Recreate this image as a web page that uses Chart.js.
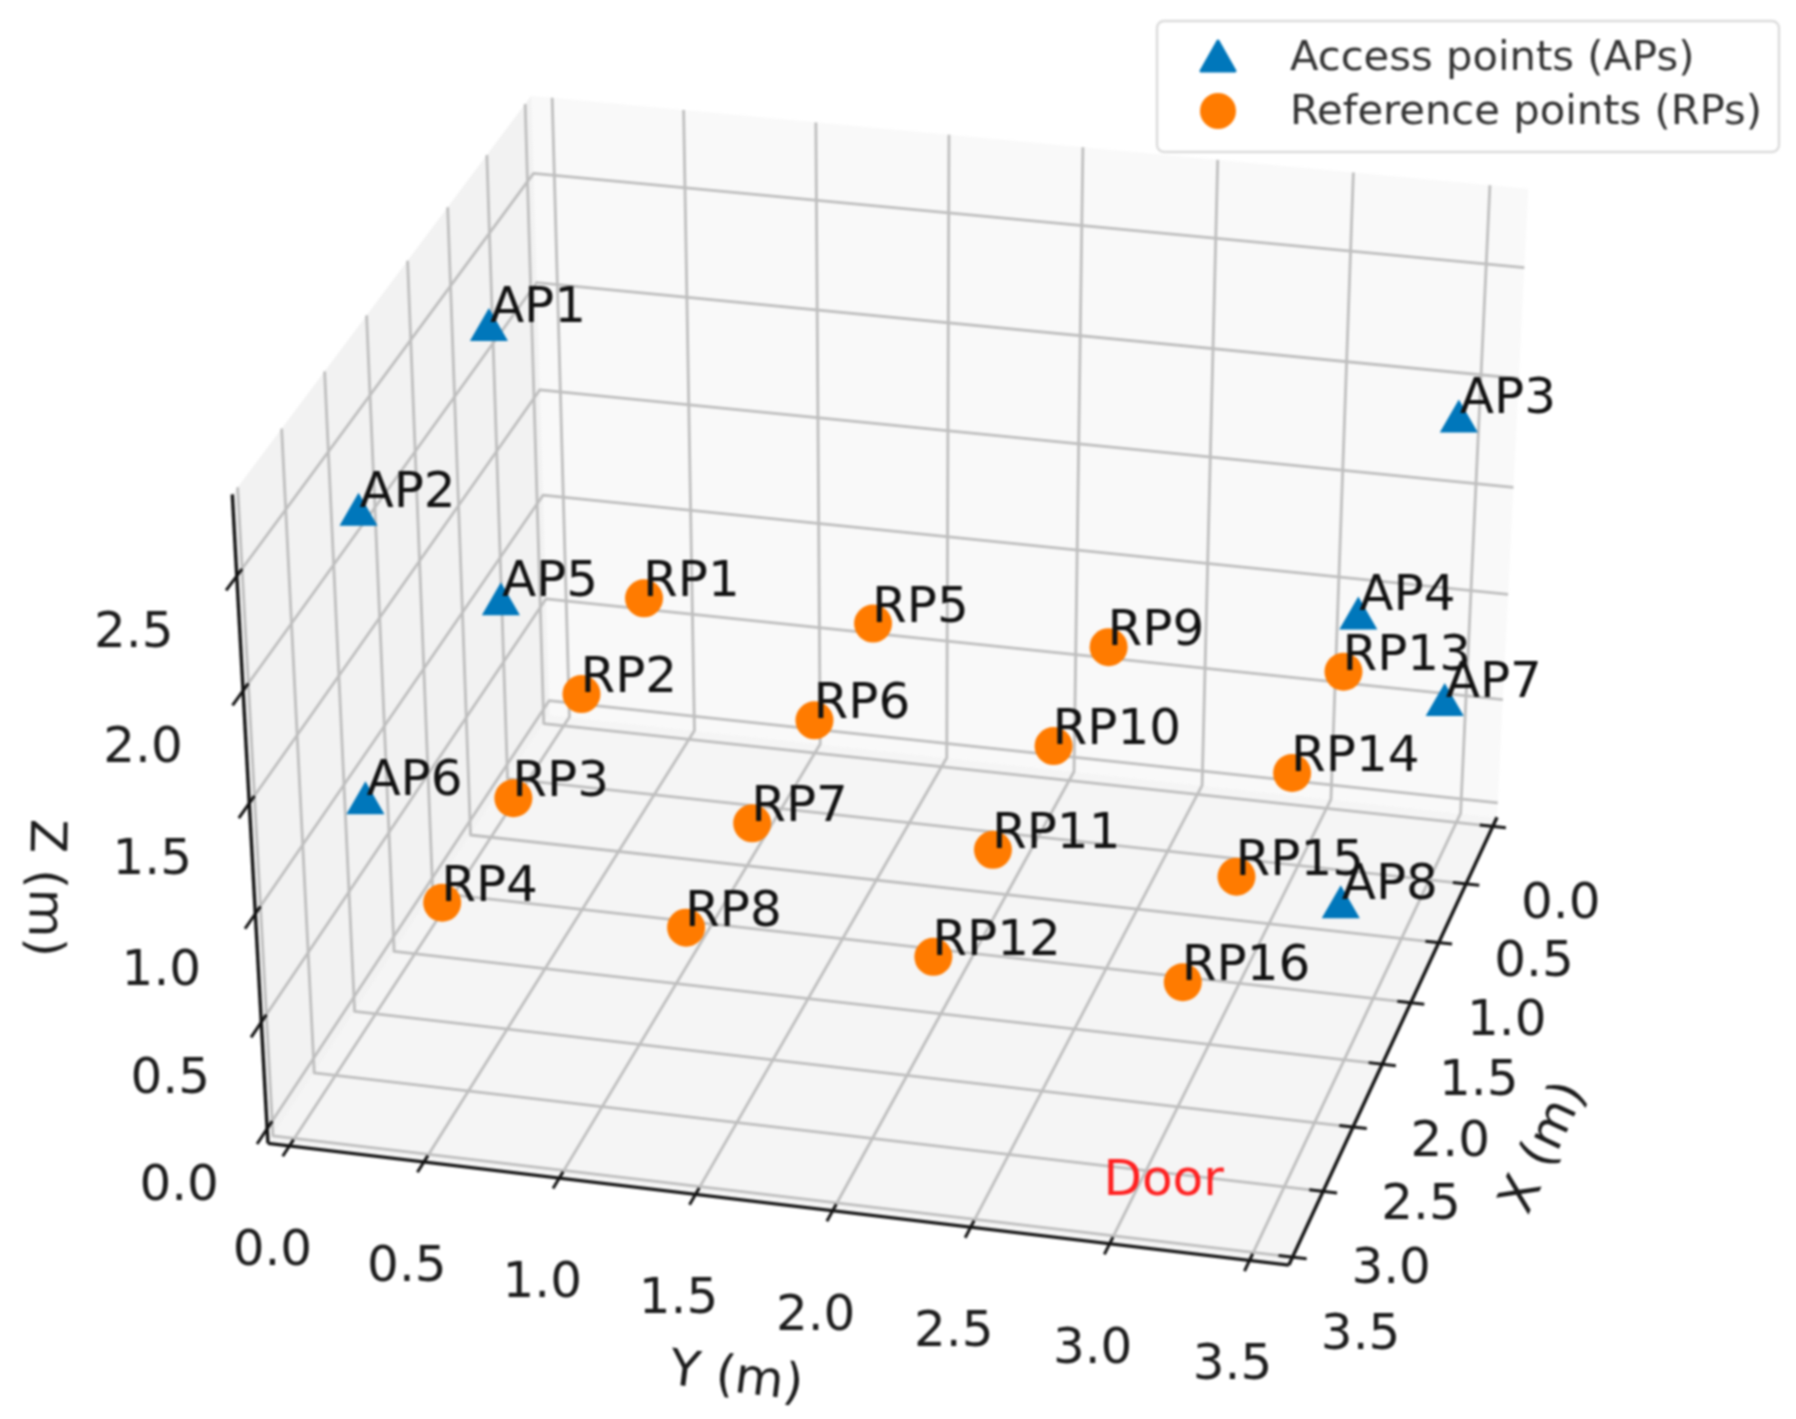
<!DOCTYPE html>
<html>
<head>
<meta charset="utf-8">
<title>APs and RPs</title>
<script src="https://cdn.jsdelivr.net/npm/chart.js@4/dist/chart.umd.min.js"></script>
<style>
    html, body { margin: 0; padding: 0; background: #fff; }
    canvas { display: block; filter: blur(0.8px); }
</style>
</head>
<body>
<canvas id="roomChart" width="1796" height="1419"></canvas>
<script>
// values in metres
const xTicks = [0, 0.5, 1, 1.5, 2, 2.5, 3, 3.5];
const yTicks = [0, 0.5, 1, 1.5, 2, 2.5, 3, 3.5];
const zTicks = [0, 0.5, 1, 1.5, 2, 2.5];

const apNames = ['AP1', 'AP2', 'AP3', 'AP4', 'AP5', 'AP6', 'AP7', 'AP8'];
const apX = [0.84, 2.50, 0.80, 2.50, 0.87, 2.60, 0.88, 2.57];
const apY = [0.01, 0.02, 3.59, 3.59, 0.03, 0.03, 3.60, 3.58];
const apZ = [2.235, 2.235, 2.235, 2.235, 0.985, 0.985, 0.985, 0.985];

const rpNames = ['RP1', 'RP2', 'RP3', 'RP4', 'RP5', 'RP6', 'RP7', 'RP8', 'RP9', 'RP10', 'RP11', 'RP12', 'RP13', 'RP14', 'RP15', 'RP16'];
const rpX = [0.72, 1.57, 2.46, 3.32, 0.73, 1.58, 2.45, 3.30, 0.72, 1.58, 2.45, 3.31, 0.72, 1.59, 2.45, 3.29];
const rpY = [0.54, 0.54, 0.54, 0.53, 1.42, 1.42, 1.42, 1.41, 2.31, 2.31, 2.30, 2.30, 3.19, 3.19, 3.18, 3.18];
const rpZ = [1, 1, 1, 1, 1, 1, 1, 1, 1, 1, 1, 1, 1, 1, 1, 1];

const doorPos = [3.32, 2.92, 0];

// limits of the box
const xMin = -0.08, xMax = 3.56;
const yMin = -0.08, yMax = 3.64;
const zMin = -0.07, zMax = 2.85;

// camera matrix, fitted to the picture
const camera = [
    [-83.25446, 246.5869, -15.2291, 563.3445],
    [94.05804, 22.71929, -214.2951, 711.5535],
    [-0.02106436, -0.005996247, -0.01683762, 1]
];

function project(x, y, z) {
    const w = camera[2][0] * x + camera[2][1] * y + camera[2][2] * z + camera[2][3];
    return {
        x: (camera[0][0] * x + camera[0][1] * y + camera[0][2] * z + camera[0][3]) / w,
        y: (camera[1][0] * x + camera[1][1] * y + camera[1][2] * z + camera[1][3]) / w
    };
}

function path3d(points) {
    return points.map(p => project(p[0], p[1], p[2]));
}

function lineSet(points, color, width) {
    return {
        type: 'line',
        data: path3d(points),
        borderColor: color,
        borderWidth: width,
        borderJoinStyle: 'round',
        pointRadius: 0,
        fill: false,
        tension: 0
    };
}

function paneSet(points, color) {
    return {
        type: 'line',
        data: path3d(points.concat([points[0]])),
        borderWidth: 0,
        borderColor: color,
        backgroundColor: color,
        pointRadius: 0,
        fill: 'shape',
        tension: 0
    };
}

const gridColor = '#bebebe';
const axisColor = '#141414';

const paneSets = [
    paneSet([[xMin, yMin, zMin], [xMax, yMin, zMin], [xMax, yMin, zMax], [xMin, yMin, zMax]], '#f2f2f2'),
    paneSet([[xMin, yMin, zMin], [xMin, yMax, zMin], [xMin, yMax, zMax], [xMin, yMin, zMax]], '#f9f9f9'),
    paneSet([[xMin, yMin, zMin], [xMax, yMin, zMin], [xMax, yMax, zMin], [xMin, yMax, zMin]], '#f5f5f5')
];

const gridSets = [
    ...xTicks.map(t => lineSet([[t, yMin, zMax], [t, yMin, zMin], [t, yMax, zMin]], gridColor, 2.8)),
    ...yTicks.map(t => lineSet([[xMax, t, zMin], [xMin, t, zMin], [xMin, t, zMax]], gridColor, 2.8)),
    ...zTicks.map(t => lineSet([[xMax, yMin, t], [xMin, yMin, t], [xMin, yMax, t]], gridColor, 2.8))
];

const axisSets = [
    lineSet([[xMin, yMax, zMin], [xMax, yMax, zMin]], axisColor, 3.4),
    lineSet([[xMax, yMin, zMin], [xMax, yMax, zMin]], axisColor, 3.4),
    lineSet([[xMax, yMin, zMin], [xMax, yMin, zMax]], axisColor, 3.4),
    ...xTicks.map(t => lineSet([[t, yMax - 0.05, zMin], [t, yMax + 0.05, zMin]], axisColor, 3)),
    ...yTicks.map(t => lineSet([[xMax - 0.05, t, zMin], [xMax + 0.08, t, zMin]], axisColor, 3)),
    ...zTicks.map(t => lineSet([[xMax - 0.06, yMin, t], [xMax + 0.12, yMin, t]], axisColor, 3))
];

const apSet = {
    type: 'scatter',
    label: 'Access points (APs)',
    names: apNames,
    data: apNames.map((n, i) => project(apX[i], apY[i], apZ[i])),
    pointStyle: 'triangle',
    pointRadius: 20,
    pointBorderWidth: 2,
    borderColor: '#0077bb',
    backgroundColor: '#0077bb'
};

const rpSet = {
    type: 'scatter',
    label: 'Reference points (RPs)',
    names: rpNames,
    data: rpNames.map((n, i) => project(rpX[i], rpY[i], rpZ[i])),
    pointStyle: 'circle',
    pointRadius: 19,
    pointBorderWidth: 0,
    borderColor: '#ff7b00',
    backgroundColor: '#ff7b00'
};

// Chart.js paints the first dataset last, so the list is back to front
const allSets = [rpSet, apSet, ...axisSets, ...gridSets, ...paneSets];

const roomText = {
    id: 'roomText',
    afterDatasetsDraw(chart) {
        const ctx = chart.ctx;
        const sx = chart.scales.x, sy = chart.scales.y;
        const px = p => sx.getPixelForValue(p.x);
        const py = p => sy.getPixelForValue(p.y);
        ctx.save();

        // point names
        ctx.font = '50px "DejaVu Sans"';
        ctx.fillStyle = '#111';
        ctx.textAlign = 'left';
        ctx.textBaseline = 'alphabetic';
        apSet.data.forEach((p, i) => ctx.fillText(apNames[i], px(p) + 1, py(p) - 8));
        rpSet.data.forEach((p, i) => ctx.fillText(rpNames[i], px(p) - 1, py(p) - 2));

        // door
        const door = project(doorPos[0], doorPos[1], doorPos[2]);
        ctx.font = '50px "DejaVu Sans"';
        ctx.fillStyle = '#ff2020';
        ctx.fillText('Door', px(door), py(door));

        // tick labels
        ctx.font = '50px "DejaVu Sans"';
        ctx.fillStyle = '#1c1c1c';
        ctx.textAlign = 'center';
        ctx.textBaseline = 'middle';
        xTicks.forEach(t => {
            const p = project(t, yMax, zMin);
            ctx.fillText(t.toFixed(1), px(p) + 68, py(p) + 79);
        });
        yTicks.forEach(t => {
            const p = project(xMax, t, zMin);
            ctx.fillText(t.toFixed(1), px(p) - 17, py(p) + 106);
        });
        zTicks.forEach(t => {
            const p = project(xMax, yMin, t);
            ctx.fillText(t.toFixed(1), px(p) - 88 - 6 * t, py(p) + 58);
        });

        // axis titles
        [['X (m)', 1545, 1148, -65], ['Y (m)', 736, 1379, 7], ['Z (m)', 43, 888, 91]].forEach(a => {
            ctx.save();
            ctx.translate(a[1], a[2]);
            ctx.rotate(a[3] * Math.PI / 180);
            ctx.fillText(a[0], 0, 0);
            ctx.restore();
        });

        // legend box
        ctx.beginPath();
        ctx.roundRect(1157, 21, 622, 131, 7);
        ctx.fillStyle = 'rgba(255,255,255,0.85)';
        ctx.fill();
        ctx.lineWidth = 2.5;
        ctx.strokeStyle = '#dcdcdc';
        ctx.stroke();

        ctx.fillStyle = apSet.backgroundColor;
        ctx.strokeStyle = apSet.backgroundColor;
        ctx.lineJoin = 'round';
        ctx.lineWidth = 3;
        ctx.beginPath();
        ctx.moveTo(1218, 41);
        ctx.lineTo(1235, 71);
        ctx.lineTo(1201, 71);
        ctx.closePath();
        ctx.fill();
        ctx.stroke();
        ctx.fillStyle = rpSet.backgroundColor;
        ctx.beginPath();
        ctx.arc(1218, 111, 18, 0, Math.PI * 2);
        ctx.fill();

        ctx.font = '41.7px "DejaVu Sans"';
        ctx.fillStyle = '#333';
        ctx.textAlign = 'left';
        ctx.textBaseline = 'alphabetic';
        ctx.fillText(apSet.label, 1290, 70);
        ctx.fillText(rpSet.label, 1290, 124);
        ctx.restore();
    }
};

new Chart(document.getElementById('roomChart'), {
    type: 'scatter',
    data: { datasets: allSets },
    options: {
        responsive: false,
        animation: false,
        devicePixelRatio: 1,
        layout: { padding: 0, autoPadding: false },
        plugins: { legend: { display: false }, tooltip: { enabled: false } },
        scales: {
            x: { type: 'linear', min: 0, max: 1796, display: false },
            y: { type: 'linear', min: 0, max: 1419, reverse: true, display: false }
        }
    },
    plugins: [roomText]
});
</script>
</body>
</html>
